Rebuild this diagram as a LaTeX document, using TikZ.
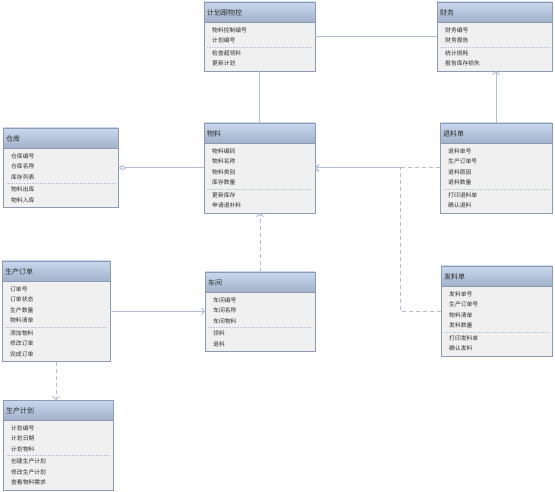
\documentclass[tikz,border=0pt]{standalone}
\usepackage{fontspec}
\setmainfont{Noto Sans CJK SC}
\usetikzlibrary{arrows.meta}

\definecolor{hdtop}{HTML}{C9D8EE}
\definecolor{hdbot}{HTML}{A2B2CA}
\definecolor{boxline}{HTML}{8D9BB2}
\definecolor{boxfill}{HTML}{F0F0F0}
\definecolor{sepcol}{HTML}{B9C9E2}
\definecolor{conn}{HTML}{B2BFD5}
\definecolor{txt}{HTML}{2E2E2E}

\tikzset{
  classbody/.style={rectangle, fill=boxfill, inner sep=0pt, outer sep=0pt},
  classtitle/.style={anchor=west, inner sep=0pt, font=\fontsize{7}{8}\selectfont, text=txt},
  member/.style={anchor=west, inner sep=0pt, font=\fontsize{5.8}{7}\selectfont, text=txt},
  assoc/.style={draw=conn, line width=1pt},
  navig/.style={draw=conn, line width=1pt, -{Straight Barb[length=3pt,width=7pt]}},
  depend/.style={draw=conn, line width=1pt, dash pattern=on 4pt off 3pt, -{Straight Barb[length=3pt,width=7pt]}},
  aggr/.style={draw=conn, line width=1pt, {Diamond[open,length=9pt,width=5pt]}-},
}

% #1 name, #2 left, #3 top, #4 width, #5 title, #6 attributes, #7 operations
\newcommand{\umlclass}[7]{%
  \foreach \t [count=\i] in {#6} {\xdef\nattr{\i}}
  \foreach \t [count=\i] in {#7} {\xdef\nops{\i}}
  \pgfmathsetmacro{\sepy}{#3+28+10.5*(\nattr-1)+6.5}
  \pgfmathsetmacro{\boty}{\sepy+6+10.5*(\nops-1)+7.5}
  \node[classbody, minimum width=#4, minimum height=\boty-#3, anchor=north west] (#1) at (#2,#3) {};
  \shade[top color=hdtop, bottom color=hdbot] (#2,#3) rectangle (#2+#4,#3+20);
  \draw[boxline, line width=0.8pt] (#1.north west) rectangle (#1.south east);
  \draw[boxline, line width=0.8pt] (#2,#3+20) -- (#2+#4,#3+20);
  \node[classtitle] at (#2+3,#3+10.5) {#5};
  \foreach \t [count=\i] in {#6}
    \node[member] at (#2+8,#3+28+10.5*\i-10.5) {\t};
  \draw[sepcol, densely dotted, line width=0.6pt] (#2+3,\sepy) -- (#2+#4-3,\sepy);
  \foreach \t [count=\i] in {#7}
    \node[member] at (#2+8,\sepy+6+10.5*\i-10.5) {\t};
}

\begin{document}
\begin{tikzpicture}[x=1pt, y=-1pt]
  \useasboundingbox (0,0) rectangle (555,492);

  \umlclass{control}{204}{2}{111}{计划跟物控}{物料控制编号,计划编号}{检查超领料,更新计划}
  \umlclass{finance}{437}{2}{115}{财务}{财务编号,财务报告}{统计损耗,报告库存损失}
  \umlclass{store}{3}{128}{115}{仓库}{仓库编号,仓库名称,库存列表}{物料出库,物料入库}
  \umlclass{material}{204}{123}{111}{物料}{物料编码,物料名称,物料类别,库存数量}{更新库存,申请退补料}
  \umlclass{returnslip}{440}{123}{112}{退料单}{退料单号,生产订单号,退料原因,退料数量}{打印退料单,确认退料}
  \umlclass{order}{2}{261}{108}{生产订单}{订单号,订单状态,生产数量,物料清单}{添加物料,修改订单,完成订单}
  \umlclass{workshop}{205}{272}{110}{车间}{车间编号,车间名称,车间物料}{领料,退料}
  \umlclass{issueslip}{441}{266}{111}{发料单}{发料单号,生产订单号,物料清单,发料数量}{打印发料单,确认发料}
  \umlclass{prodplan}{3}{400}{110}{生产计划}{计划编号,计划日期,计划物料}{创建生产计划,修改生产计划,查看物料需求}

  % connectors
  \draw[assoc] (control) -- (finance);
  \draw[assoc] (control) -- (material);
  \draw[aggr] (store.east) -- (store.east -| material.west);
  \draw[depend] (returnslip.west) -- (material.east);
  \draw[depend] (issueslip.west) -- ++(-41,0) |- (material.east);
  \draw[navig] (returnslip.north) -- (returnslip.north |- finance.south);
  \draw[depend] (workshop.north) -- (workshop.north |- material.south);
  \draw[navig] (order.east) -- (order.east -| workshop.west);
  \draw[depend] (order.south) -- (order.south |- prodplan.north);
\end{tikzpicture}
\end{document}
